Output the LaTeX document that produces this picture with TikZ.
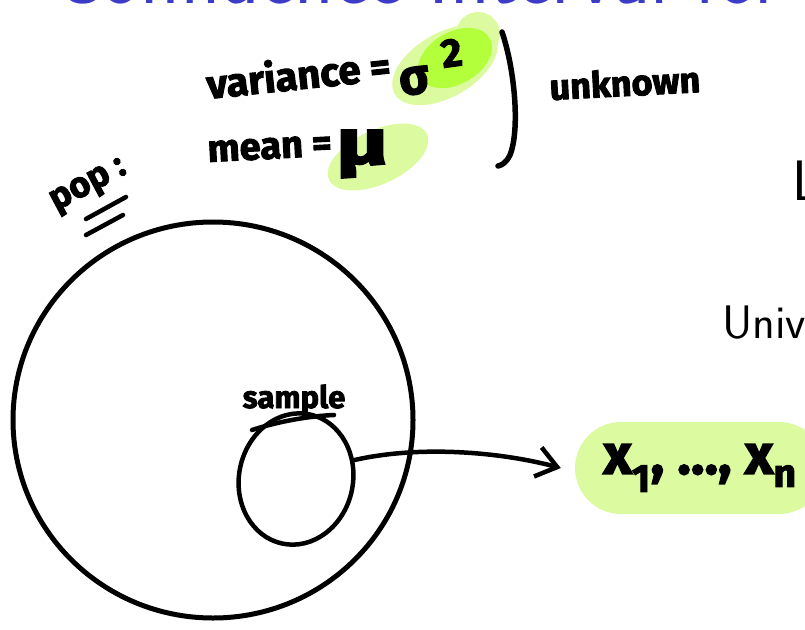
\documentclass[tikz,border=0pt]{standalone}
\usepackage{fontspec}
\usepackage{graphicx}
\newfontfamily\hand{Fira Sans}[BoldFeatures={FakeBold=2.5}]
\usetikzlibrary{shapes.geometric,arrows.meta,positioning}
\definecolor{slideblue}{RGB}{60,60,200}
\definecolor{hilite}{RGB}{220,251,160}
\definecolor{hilitedark}{RGB}{180,255,60}
\tikzset{
  pen/.style={line width=4.5pt, line cap=round, line join=round},
  ink/.style={font=\hand\bfseries\fontsize{#1}{#1}\selectfont, inner sep=0pt},
  ink/.default=30,
  slide/.style={font=\sffamily\fontsize{#1}{#1}\selectfont, inner sep=0pt, anchor=base west},
}
\begin{document}
\begin{tikzpicture}[x=1pt,y=-1pt]
  \useasboundingbox (0,0) rectangle (805,629);
  % slide text behind the ink
  \node[slide=82, text=slideblue] (title) at (52,3) {Confidence Interval for};
  \node[slide=57] (lect) at (792,200) {L};
  \node[slide=47] (univ) at (722,338) {University};
  % marker
  \fill[hilite, rotate around={30:(445,65)}] (445,65) ellipse (58 and 32);
  \fill[hilite] (478,34) circle (22);
  \fill[hilitedark, rotate around={30:(455,58)}] (455,58) ellipse (40 and 26);
  \fill[hilite, rotate around={25:(378,157)}] (378,157) ellipse (54 and 27);
  % unknowns
  \node[ink=40, anchor=base west, rotate=6] (var) at (208,99) {variance =};
  \node[ink=50, anchor=base west, rotate=8] (sig) at (401,96) {σ};
  \node[ink=40, anchor=base west, rotate=8] (sq) at (443,68) {2};
  \node[ink=38, anchor=base west, rotate=3] (mean) at (208,162) {mean =};
  \node[ink=64, anchor=base west] (mu) at (336,164) {\scalebox{1.4}[1]{μ}};
  \draw[pen, line width=5.5pt] (502,32) .. controls (515,70) and (520,130) .. (510,155)
    .. controls (506,163) and (502,165) .. (498,166);
  \node[ink=36, anchor=base west, rotate=3] (unk) at (550,100) {unknown};
  % population
  \node[ink=36, anchor=base west, rotate=28] (poplbl) at (56,211) {pop :};
  \draw[pen] (86,219) -- (126,197);
  \draw[pen] (86,235) -- (123,215);
  \node[ellipse, draw, line width=5pt, minimum width=400pt, minimum height=396pt] (pop) at (213,420) {};
  % sample
  \node[ellipse, draw, pen, minimum width=114pt, minimum height=132pt, rotate=-12] (smp) at (296,479) {};
  \node[ink=31, anchor=base] (smplbl) at (294,408) {sample};
  \draw[pen] (252,430) .. controls (280,421) and (310,416) .. (334,415);
  \node[fill=hilite, rounded corners=46pt, minimum width=250pt, minimum height=92pt,
        ink=56] (xs) at (700,468) {x\textsubscript{1}, …, x\textsubscript{n}\hspace{10pt}};
  \draw[pen, -{Straight Barb[length=20pt, width=30pt]}] (smp.30)
    .. controls (420,445) and (500,452) .. ([xshift=-14pt]xs.west);
\end{tikzpicture}
\end{document}
